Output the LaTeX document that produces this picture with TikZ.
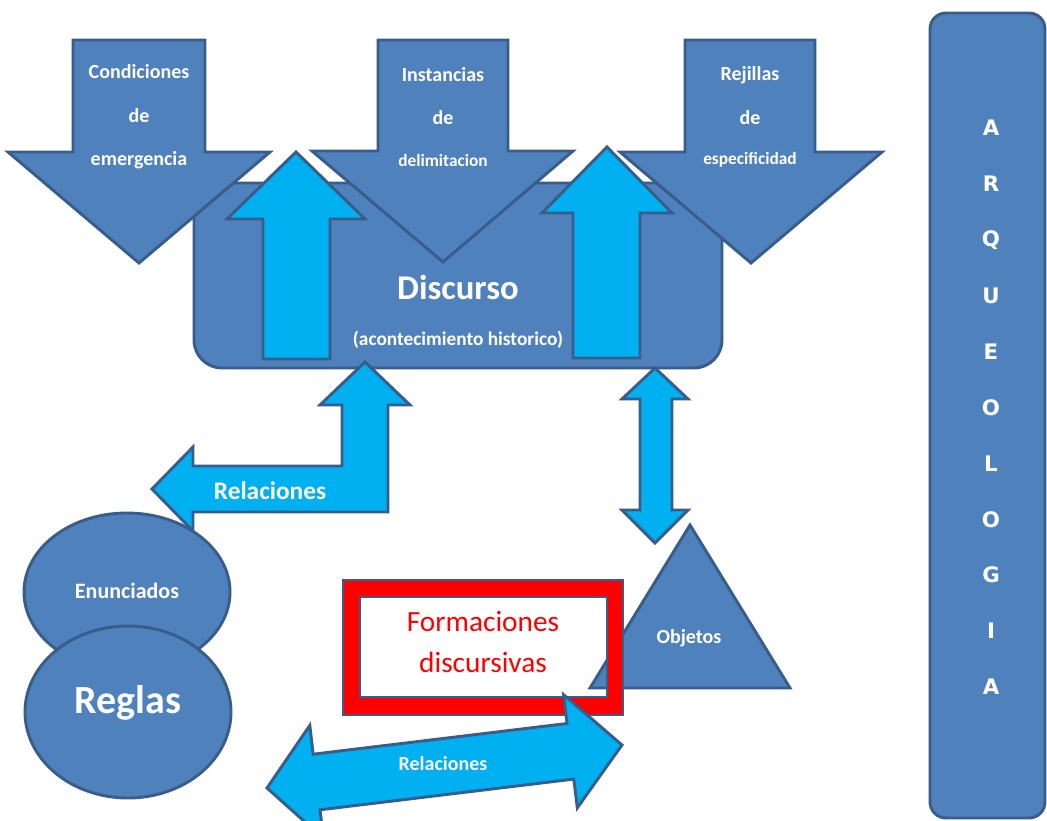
\documentclass[tikz,border=0pt]{standalone}
\usepackage{fontspec}
\setmainfont{Carlito}
\newfontfamily\dvs{DejaVu Sans}
\definecolor{dblue}{HTML}{4F81BD}
\definecolor{dstroke}{HTML}{385D8A}
\definecolor{lblue}{HTML}{00B0F0}
\definecolor{redf}{HTML}{FF0000}
\tikzset{
  darkshape/.style={fill=dblue,draw=dstroke,line width=2.2pt},
  lightshape/.style={fill=lblue,draw=dstroke,line width=2.2pt},
  wtxt/.style={text=white,font=\bfseries,inner sep=0pt,align=center},
  fs/.style={font=\bfseries\fontsize{#1}{#1}\selectfont},
}
\begin{document}
\begin{tikzpicture}[x=0.75pt,y=-0.75pt]
\path[use as bounding box] (0,0) rectangle (1047,821);
\clip (0,0) rectangle (1047,821);
\fill[white] (0,0) rectangle (1047,821);

% Discurso rectangle
\draw[darkshape,rounded corners=21pt] (194,183) rectangle (722,368);

% down arrows
\draw[darkshape] (73,40) -- (205,40) -- (205,152) -- (270,152) -- (139,263) -- (8,152) -- (73,152) -- cycle;
\draw[darkshape] (378,40) -- (508,40) -- (508,151) -- (573,151) -- (443,262) -- (312,151) -- (378,151) -- cycle;
\draw[darkshape] (685,40) -- (815,40) -- (815,152) -- (882,152) -- (751,263) -- (620,152) -- (685,152) -- cycle;

% up arrows
\draw[lightshape] (296,152) -- (365,219) -- (330,219) -- (330,359) -- (263,359) -- (263,219) -- (227,219) -- cycle;
\draw[lightshape] (607,147) -- (672,213) -- (640,213) -- (640,358) -- (573,358) -- (573,213) -- (542,213) -- cycle;

% arrow texts
\node[wtxt,fs=15] (c1) at (139,72) {Condiciones};
\node[wtxt,fs=15] (c2) at (139,116) {de};
\node[wtxt,fs=15] (c3) at (139,160) {emergencia};
\node[wtxt,fs=15] (i1) at (443,75) {Instancias};
\node[wtxt,fs=15] (i2) at (443,118) {de};
\node[wtxt,fs=13] (i3) at (443,160) {delimitacion};
\node[wtxt,fs=15] (r1) at (750,75) {Rejillas};
\node[wtxt,fs=15] (r2) at (750,118) {de};
\node[wtxt,fs=13] (r3) at (750,160) {especificidad};

\node[wtxt,fs=26] (disc) at (458,287) {Discurso};
\node[wtxt,fs=14.5] (acon) at (458,340) {(acontecimiento historico)};

% bent arrow Relaciones
\draw[lightshape] (365,362) -- (410,405) -- (388,405) -- (388,512) -- (193,512) -- (193,531)
  -- (152,489) -- (193,447) -- (193,466) -- (342,466) -- (342,405) -- (320,405) -- cycle;
\node[wtxt,fs=19] (rel1) at (270,491) {Relaciones};

% vertical double arrow
\draw[lightshape] (655,368) -- (688,399) -- (672,399) -- (672,510) -- (688,510) -- (655,543)
  -- (622,510) -- (640,510) -- (640,399) -- (622,399) -- cycle;

% ellipses
\draw[darkshape] (127,592) ellipse [x radius=103, y radius=79];
\node[wtxt,fs=16.5] (enun) at (127,591) {Enunciados};
\draw[darkshape] (128,712) ellipse [x radius=103, y radius=86];
\node[wtxt,fs=30] (regl) at (128,703) {Reglas};

% Formaciones box and triangle
\fill[white] (360,597) rectangle (607,697);
\draw[darkshape] (690,525) -- (790,688) -- (590,688) -- cycle;
\node[wtxt,fs=15] (obj) at (689,638) {Objetos};
\draw[fill=redf,draw=dstroke,line width=2.2pt,even odd rule] (343,580) rectangle (623,715) (360,597) rectangle (607,697);
\node[text=redf,inner sep=0pt,font=\fontsize{22}{22}\selectfont] (form1) at (483,622) {Formaciones};
\node[text=redf,inner sep=0pt,font=\fontsize{22}{22}\selectfont] (form2) at (483,662) {discursivas};

% lower double arrow
\draw[lightshape] (267,788) -- (309.8,725.4) -- (313.2,754.2) -- (567.0,723.5) -- (563.6,694.7) -- (622,745)
  -- (577.3,807.9) -- (573.8,779.1) -- (320.0,809.8) -- (323.5,838.6) -- cycle;
\node[wtxt,fs=15] (rel2) at (443,764) {Relaciones};

% ARQUEOLOGIA
\draw[darkshape,rounded corners=12pt] (930,13) rectangle (1045,818);
\foreach \l [count=\i from 0] in {A,R,Q,U,E,O,L,O,G,I,A}{
  \node[text=white,inner sep=0pt,font=\dvs\bfseries\fontsize{16}{16}\selectfont] (arq\i) at (991,{128+55.9*\i}) {\l};
}
\end{tikzpicture}
\end{document}
